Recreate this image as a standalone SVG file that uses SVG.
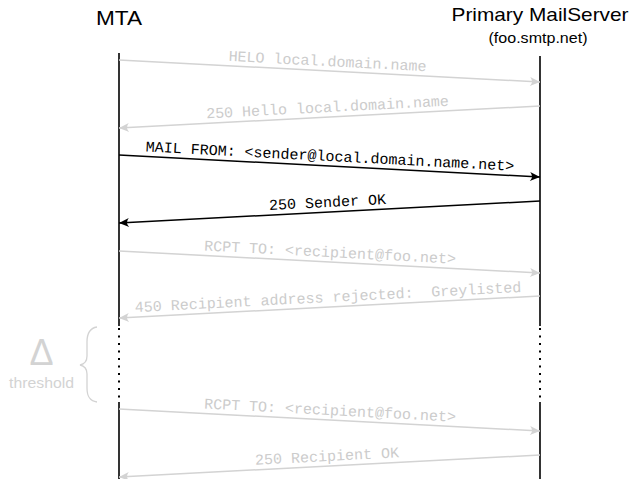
<svg xmlns="http://www.w3.org/2000/svg" width="633" height="479" viewBox="0 0 633 479">
  <style>
    .hdr { font-family: "Liberation Sans", Arial, sans-serif; fill: #000; text-anchor: middle; }
    .life { stroke: #000; stroke-width: 1.6; fill: none; }
    .dots { stroke: #000; stroke-width: 2; stroke-dasharray: 2 5.5; fill: none; }
    .msg { stroke-width: 1.5; fill: none; }
    .grey { stroke: #d3d3d3; }
    .black { stroke: #000; }
    .lbl { font-family: "Liberation Mono", "Courier New", monospace; font-size: 15px; text-anchor: middle; white-space: pre; }
    .lg { fill: #cccccc; }
    .lb { fill: #000; }
    .side { font-family: "Liberation Sans", Arial, sans-serif; fill: #d3d3d3; text-anchor: middle; }
  </style>
  <defs>
    <marker id="ab" viewBox="-11 -6 12 12" refX="0" refY="0" markerWidth="12" markerHeight="12" markerUnits="userSpaceOnUse" orient="auto">
      <path d="M0,0 L-10,-4.5 Q-6,0 -10,4.5 Z" fill="#000"/>
    </marker>
    <marker id="ag" viewBox="-11 -6 12 12" refX="0" refY="0" markerWidth="12" markerHeight="12" markerUnits="userSpaceOnUse" orient="auto">
      <path d="M0,0 L-10,-4.5 Q-6,0 -10,4.5 Z" fill="#d3d3d3"/>
    </marker>
  </defs>

  <g id="mta">
    <text class="hdr" x="119" y="25" font-size="20" textLength="46" lengthAdjust="spacingAndGlyphs">MTA</text>
    <line class="life" x1="119" y1="53" x2="119" y2="326"/>
    <line class="dots" x1="119" y1="328" x2="119" y2="400"/>
    <line class="life" x1="119" y1="402" x2="119" y2="479"/>
  </g>

  <g id="server">
    <text class="hdr" x="540" y="21" font-size="19" textLength="177" lengthAdjust="spacingAndGlyphs">Primary MailServer</text>
    <text class="hdr" x="538" y="43" font-size="15" textLength="99" lengthAdjust="spacingAndGlyphs">(foo.smtp.net)</text>
    <line class="life" x1="540" y1="56" x2="540" y2="326"/>
    <line class="dots" x1="540" y1="328" x2="540" y2="400"/>
    <line class="life" x1="540" y1="402" x2="540" y2="479"/>
  </g>

  <g id="threshold">
    <text class="side" x="41.5" y="365" font-size="36">Δ</text>
    <text class="side" x="41.5" y="388" font-size="14" textLength="65" lengthAdjust="spacingAndGlyphs">threshold</text>
    <path d="M97,327 C90,328 87,333 87,342 L87,356 C87,361 85,364 80,365 C85,366 87,369 87,374 L87,388 C87,397 90,401 97,402" fill="none" stroke="#d3d3d3" stroke-width="1.3"/>
  </g>

  <g id="connectors">
    <line class="msg grey" x1="119" y1="60" x2="540" y2="82" marker-end="url(#ag)"/>
    <line class="msg grey" x1="540" y1="106" x2="119" y2="128" marker-end="url(#ag)"/>
    <line class="msg black" x1="119" y1="155" x2="540" y2="177" marker-end="url(#ab)"/>
    <line class="msg black" x1="540" y1="201" x2="119" y2="223" marker-end="url(#ab)"/>
    <line class="msg grey" x1="119" y1="251" x2="540" y2="273" marker-end="url(#ag)"/>
    <line class="msg grey" x1="540" y1="296" x2="119" y2="318" marker-end="url(#ag)"/>
    <line class="msg grey" x1="119" y1="409" x2="540" y2="431" marker-end="url(#ag)"/>
    <line class="msg grey" x1="540" y1="455" x2="119" y2="477" marker-end="url(#ag)"/>
  </g>

  <g id="labels">
    <g transform="translate(327,71) rotate(2.99)"><text class="lbl lg" x="0" y="-5">HELO local.domain.name</text></g>
    <g transform="translate(328,117) rotate(-2.99)"><text class="lbl lg" x="0" y="-5">250 Hello local.domain.name</text></g>
    <g transform="translate(329.5,166) rotate(2.99)"><text class="lbl lb" x="0" y="-5">MAIL FROM: &lt;sender@local.domain.name.net&gt;</text></g>
    <g transform="translate(328,212) rotate(-2.99)"><text class="lbl lb" x="0" y="-5">250 Sender OK</text></g>
    <g transform="translate(329.5,262) rotate(2.99)"><text class="lbl lg" x="0" y="-5">RCPT TO: &lt;recipient@foo.net&gt;</text></g>
    <g transform="translate(328.5,307) rotate(-2.99)"><text class="lbl lg" x="0" y="-5" xml:space="preserve">450 Recipient address rejected:  Greylisted</text></g>
    <g transform="translate(329.5,420) rotate(2.99)"><text class="lbl lg" x="0" y="-5">RCPT TO: &lt;recipient@foo.net&gt;</text></g>
    <g transform="translate(327.5,466) rotate(-2.99)"><text class="lbl lg" x="0" y="-5">250 Recipient OK</text></g>
  </g>
</svg>
